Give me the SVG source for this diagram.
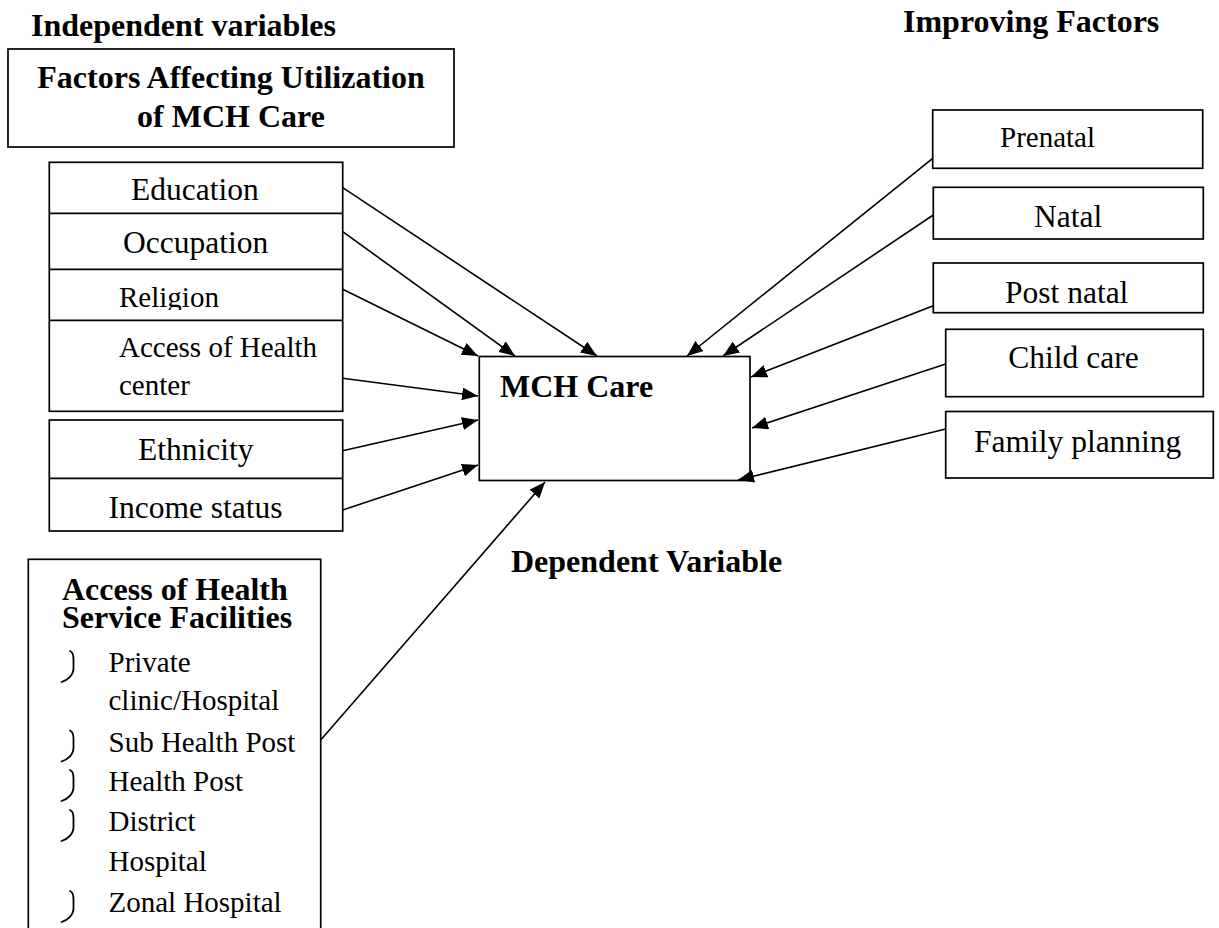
<svg xmlns="http://www.w3.org/2000/svg" width="1219" height="928" viewBox="0 0 1219 928">
<style>
  .box { fill: #ffffff; stroke: #000000; stroke-width: 1.7; }
  .div { stroke: #000000; stroke-width: 1.7; }
  .t { font-family: "Liberation Serif", "Times New Roman", serif; fill: #000000; }
  .b { font-weight: bold; font-size: 32px; }
  .r { font-size: 31.5px; }
  .s { font-size: 29px; }
  .conn line { stroke: #000000; stroke-width: 1.6; marker-end: url(#arr); }
  .bul { fill: none; stroke: #000000; stroke-width: 1.8; stroke-linecap: round; }
</style>
<defs>
  <marker id="arr" markerUnits="userSpaceOnUse" markerWidth="16" markerHeight="13" refX="16" refY="6.5" orient="auto">
    <path d="M0,0 L16,6.5 L0,13 z" fill="#000000"/>
  </marker>
  <path id="bullet" d="M 8,-21 C 10.5,-20 11.5,-17 11.5,-13 L 11.5,-4 C 11.5,3 6,8 -0.5,10"/>
  <clipPath id="relClip"><rect x="49" y="269" width="294" height="41"/></clipPath>
</defs>
<rect width="1219" height="928" fill="#ffffff"/>

<g id="label-independent">
  <text class="t b" x="31" y="36">Independent variables</text>
</g>
<g id="label-improving">
  <text class="t b" x="903" y="32">Improving Factors</text>
</g>

<g id="factors-header">
  <rect class="box" x="8" y="49" width="446" height="98"/>
  <text class="t b" x="231" y="88" text-anchor="middle">Factors Affecting Utilization</text>
  <text class="t b" x="231" y="127" text-anchor="middle">of MCH Care</text>
</g>

<g id="factors-group1">
  <rect class="box" x="49.3" y="162.3" width="293.4" height="249"/>
  <line class="div" x1="49.3" y1="213.3" x2="342.7" y2="213.3"/>
  <line class="div" x1="49.3" y1="269.3" x2="342.7" y2="269.3"/>
  <line class="div" x1="49.3" y1="320.3" x2="342.7" y2="320.3"/>
</g>
<g id="education"><text class="t r" x="131" y="200">Education</text></g>
<g id="occupation"><text class="t r" x="123" y="253">Occupation</text></g>
<g id="religion"><text class="t s" x="119" y="306.7" clip-path="url(#relClip)">Religion</text></g>
<g id="access-health-center">
  <text class="t s" x="119" y="356.7">Access of Health</text>
  <text class="t s" x="119" y="395">center</text>
</g>

<g id="factors-group2">
  <rect class="box" x="49.3" y="420" width="293.4" height="111"/>
  <line class="div" x1="49.3" y1="478.3" x2="342.7" y2="478.3"/>
</g>
<g id="ethnicity"><text class="t r" x="138" y="460">Ethnicity</text></g>
<g id="income-status"><text class="t r" x="108.5" y="518">Income status</text></g>

<g id="facilities">
  <rect class="box" x="28.3" y="559.3" width="292.4" height="400"/>
  <text class="t b" x="62" y="600">Access of Health</text>
  <text class="t b" x="62" y="628">Service Facilities</text>
  <use class="bul" href="#bullet" transform="translate(62,672)"/>
  <text class="t s" x="108.5" y="672">Private</text>
  <text class="t s" x="108.5" y="710">clinic/Hospital</text>
  <use class="bul" href="#bullet" transform="translate(62,751.5)"/>
  <text class="t s" x="108.5" y="751.5">Sub Health Post</text>
  <use class="bul" href="#bullet" transform="translate(62,791)"/>
  <text class="t s" x="108.5" y="791">Health Post</text>
  <use class="bul" href="#bullet" transform="translate(62,831)"/>
  <text class="t s" x="108.5" y="831">District</text>
  <text class="t s" x="108.5" y="871">Hospital</text>
  <use class="bul" href="#bullet" transform="translate(62,912)"/>
  <text class="t s" x="108.5" y="912">Zonal Hospital</text>
</g>

<g id="mch-care">
  <rect class="box" x="479.3" y="356.5" width="270.7" height="124"/>
  <text class="t b" x="500" y="396.7">MCH Care</text>
</g>
<g id="label-dependent">
  <text class="t b" x="511" y="571.7">Dependent Variable</text>
</g>

<g id="prenatal">
  <rect class="box" x="932.7" y="110" width="270" height="58.3"/>
  <text class="t s" x="1000" y="146.7">Prenatal</text>
</g>
<g id="natal">
  <rect class="box" x="933.3" y="187.3" width="270" height="51.7"/>
  <text class="t r" x="1034" y="227.3">Natal</text>
</g>
<g id="post-natal">
  <rect class="box" x="933.3" y="263" width="270" height="49.7"/>
  <text class="t r" x="1005" y="303.3">Post natal</text>
</g>
<g id="child-care">
  <rect class="box" x="945.7" y="329.3" width="257.6" height="67.4"/>
  <text class="t r" x="1008.3" y="368.3">Child care</text>
</g>
<g id="family-planning">
  <rect class="box" x="945.7" y="411.5" width="267.6" height="66.5"/>
  <text class="t r" x="974" y="451.7">Family planning</text>
</g>

<g id="connectors" class="conn">
  <line x1="342.7" y1="187.7" x2="597" y2="356"/>
  <line x1="342.7" y1="231.7" x2="515" y2="356"/>
  <line x1="342.7" y1="289.3" x2="478" y2="356"/>
  <line x1="342.7" y1="378.3" x2="478" y2="396"/>
  <line x1="342.7" y1="450.7" x2="478" y2="420"/>
  <line x1="342.7" y1="510" x2="478" y2="465"/>
  <line x1="320.7" y1="740" x2="545" y2="482"/>
  <line x1="932.7" y1="158.3" x2="687" y2="356"/>
  <line x1="933.3" y1="215" x2="723" y2="356"/>
  <line x1="933.3" y1="305.7" x2="751" y2="377"/>
  <line x1="945.7" y1="364" x2="752" y2="428"/>
  <line x1="945.7" y1="429" x2="738" y2="480"/>
</g>
</svg>
